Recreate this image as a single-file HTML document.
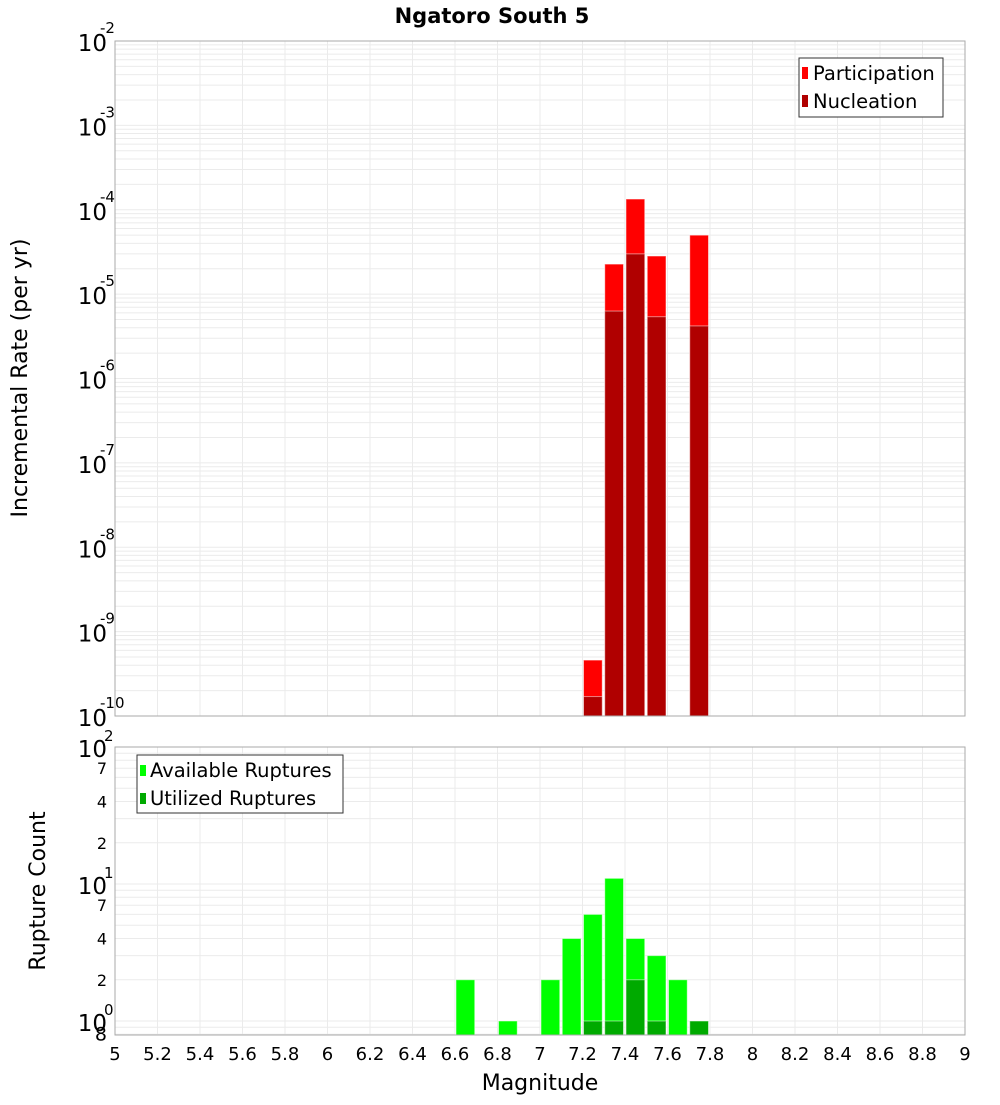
<!DOCTYPE html>
<html><head><meta charset="utf-8"><style>
body{margin:0;background:#fff;font-family:"Liberation Sans","DejaVu Sans",sans-serif}
svg text{font-family:"DejaVu Sans","Liberation Sans",sans-serif}
</style></head><body>
<svg id="c" width="1000" height="1100" xmlns="http://www.w3.org/2000/svg">
<text x="492" y="23" text-anchor="middle" font-size="21" font-weight="bold">Ngatoro South 5</text>
<g id="topg"></g>
<g id="botg"></g>
<text transform="translate(27,378) rotate(-90)" text-anchor="middle" font-size="22">Incremental Rate (per yr)</text>
<text transform="translate(45,891) rotate(-90)" text-anchor="middle" font-size="22">Rupture Count</text>
<text x="540" y="1090" text-anchor="middle" font-size="22">Magnitude</text>
<g id="legs">
<g>
<rect x="799" y="58" width="144" height="59" fill="#fff" stroke="#333"/>
<rect x="802" y="67" width="6" height="12" fill="#ff0000"/>
<text x="813" y="80" font-size="19.5">Participation</text>
<rect x="802" y="95" width="6" height="12" fill="#b00000"/>
<text x="813" y="108" font-size="19.5">Nucleation</text>
</g>
<g>
<rect x="137" y="755" width="206" height="58" fill="#fff" stroke="#333"/>
<rect x="140" y="765" width="6" height="11" fill="#00ff00"/>
<text x="150" y="777" font-size="19.5">Available Ruptures</text>
<rect x="140" y="793" width="6" height="11" fill="#00aa00"/>
<text x="150" y="805" font-size="19.5">Utilized Ruptures</text>
</g>
</g>
</svg>
<script>
const rateBins=[7.2,7.3,7.4,7.5,7.7];
const participation=[4.6e-10,2.27e-5,1.34e-4,2.83e-5,5.0e-5];
const nucleation=[1.7e-10,6.3e-6,3.0e-5,5.4e-6,4.2e-6];
const countBins=[6.6,6.8,7.0,7.1,7.2,7.3,7.4,7.5,7.6,7.7];
const available=[2,1,2,4,6,11,4,3,2,1];
const utilBins=[7.2,7.3,7.4,7.5,7.7];
const utilized=[1,1,2,1,1];
const xTicks=[5,5.2,5.4,5.6,5.8,6,6.2,6.4,6.6,6.8,7,7.2,7.4,7.6,7.8,8,8.2,8.4,8.6,8.8,9];
const topExps=[-2,-3,-4,-5,-6,-7,-8,-9,-10];

const NS="http://www.w3.org/2000/svg";
const L=115,R=965;
const X=v=>L+(v-5)/4*(R-L);
const T0=41,T1=716,Y1=v=>T0+(-2-Math.log10(v))/8*(T1-T0);
const B0=747,B1=1035,DEC=137,Y2=v=>B0+(2-Math.log10(v))*DEC;
function mk(p,tag,a){const e=document.createElementNS(NS,tag);for(const k in a)e.setAttribute(k,a[k]);p.appendChild(e);return e;}
const gTop=document.getElementById('topg'),gBot=document.getElementById('botg');
for(const [g,y0,y1] of [[gTop,T0,T1],[gBot,B0,B1]]){
  mk(g,'rect',{x:L,y:y0,width:R-L,height:y1-y0,fill:'#fff'});
  xTicks.forEach(t=>{const l=mk(g,'line',{x1:X(t),x2:X(t),y1:y0,y2:y1,stroke:'#ebebeb'});
  
  });
}
for(let e=-10;e<-2;e++)for(let m=1;m<10;m++){const y=Y1(m*Math.pow(10,e));if(y<T0||y>T1)continue;
  const l=mk(gTop,'line',{x1:L,x2:R,y1:y,y2:y,stroke:'#ebebeb'});
  
  }
for(let e=-1;e<2;e++)for(let m=1;m<10;m++){const y=Y2(m*Math.pow(10,e));if(y<B0||y>B1)continue;
  const l=mk(gBot,'line',{x1:L,x2:R,y1:y,y2:y,stroke:'#ebebeb'});
  
  }
function bars(g,bins,vals,fill,Y,base,name){bins.forEach((b,i)=>{const y=Math.max(Y(vals[i]),0);
  const r=mk(g,'rect',{x:X(b)+1,y:y,width:X(b+0.1)-X(b)-2.5,height:base-y,fill:fill,stroke:'rgba(255,255,255,0.5)','stroke-width':1});
  
  });}
bars(gTop,rateBins,participation,'#ff0000',Y1,T1,'participation-bar');
bars(gTop,rateBins,nucleation,'#b00000',Y1,T1,'nucleation-bar');
bars(gBot,countBins,available,'#00ff00',Y2,B1,'available-bar');
bars(gBot,utilBins,utilized,'#00aa00',Y2,B1,'utilized-bar');
mk(gTop,'rect',{x:L,y:T0,width:R-L,height:T1-T0,fill:'none',stroke:'#aaa'});
mk(gBot,'rect',{x:L,y:B0,width:R-L,height:B1-B0,fill:'none',stroke:'#aaa'});
topExps.forEach(e=>{const y=Y1(Math.pow(10,e));
  const t=mk(gTop,'text',{x:107,y:y+10,'text-anchor':'end','font-size':23});
  
  
  t.textContent='10';
  const s=mk(gTop,'text',{x:100,y:y-8,'font-size':15});
  
  
  s.textContent=String(e);});
[[100,'10','2'],[10,'10','1'],[1,'10','0']].forEach(([v,b,s])=>{const y=Y2(v);
  const t=mk(gBot,'text',{x:107,y:y+10,'text-anchor':'end','font-size':23});
  
  
  t.textContent=b;
  const u=mk(gBot,'text',{x:104,y:y-6,'font-size':15});
  
  
  u.textContent=s;});
[[70,'7'],[40,'4'],[20,'2'],[7,'7'],[4,'4'],[2,'2'],[0.8,'8']].forEach(([v,s])=>{const y=Y2(v);
  const t=mk(gBot,'text',{x:107,y:y+6,'text-anchor':'end','font-size':v<1?19:16});
  
  
  t.textContent=s;});
xTicks.forEach(t=>{const e=mk(gBot,'text',{x:X(t),y:1060,'text-anchor':'middle','font-size':18});
  
  
  e.textContent=String(t);});
document.getElementById('c').appendChild(document.getElementById('legs'));
</script>
</body></html>
